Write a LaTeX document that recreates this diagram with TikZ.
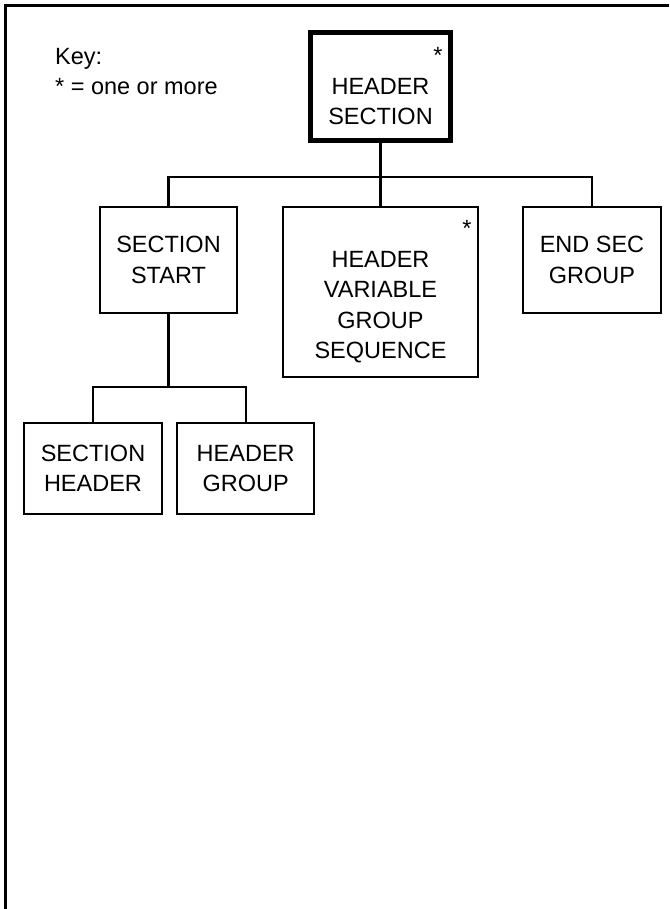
\documentclass[tikz,border=0pt]{standalone}
\usepackage{fontspec}
\setmainfont{Liberation Sans}
\usetikzlibrary{positioning}
\newcommand\many[1]{\makebox[#1pt][r]{*}}

\begin{document}
\begin{tikzpicture}[x=1pt, y=-1pt, line width=2.2pt,
  every node/.style={font=\fontsize{23.5}{30.5}\selectfont, align=center, inner sep=0pt},
  box/.style={draw, minimum width=138pt, minimum height=106pt}]
  \useasboundingbox (0,0) rectangle (669,909);
  \draw[line width=3pt] (5.5,909) -- (5.5,5.5) -- (669,5.5);

  \node[anchor=north west, align=left] (key) at (54,47) {Key:\\* = one or more};

  \node[box, line width=5pt, minimum width=140pt, minimum height=108pt] (hs) at (380.5,86.5) {\many{124}\\HEADER\\SECTION};
  \node[box, minimum width=137pt] (ss) at (168.5,260) {SECTION\\START};
  \node[box, minimum width=195pt, minimum height=170pt] (hvgs) at (380.5,292) {\many{182}\\HEADER\\VARIABLE\\GROUP\\SEQUENCE};
  \node[box] (esg) at (592,260) {END SEC\\GROUP};
  \node[box, minimum height=91pt] (sh) at (93,468.5) {SECTION\\HEADER};
  \node[box, minimum width=137pt, minimum height=91pt] (hg) [right=13pt of sh] {HEADER\\GROUP};

  \coordinate (fork) at (380.5,177);
  \coordinate (fork2) at (168.5,387);
  \draw (hs) -- (fork);
  \draw (fork) -| (ss);
  \draw (fork) -- (hvgs);
  \draw (fork) -| (esg);
  \draw (ss) -- (fork2);
  \draw (fork2) -| (sh);
  \draw (fork2) -| (hg);
\end{tikzpicture}
\end{document}
